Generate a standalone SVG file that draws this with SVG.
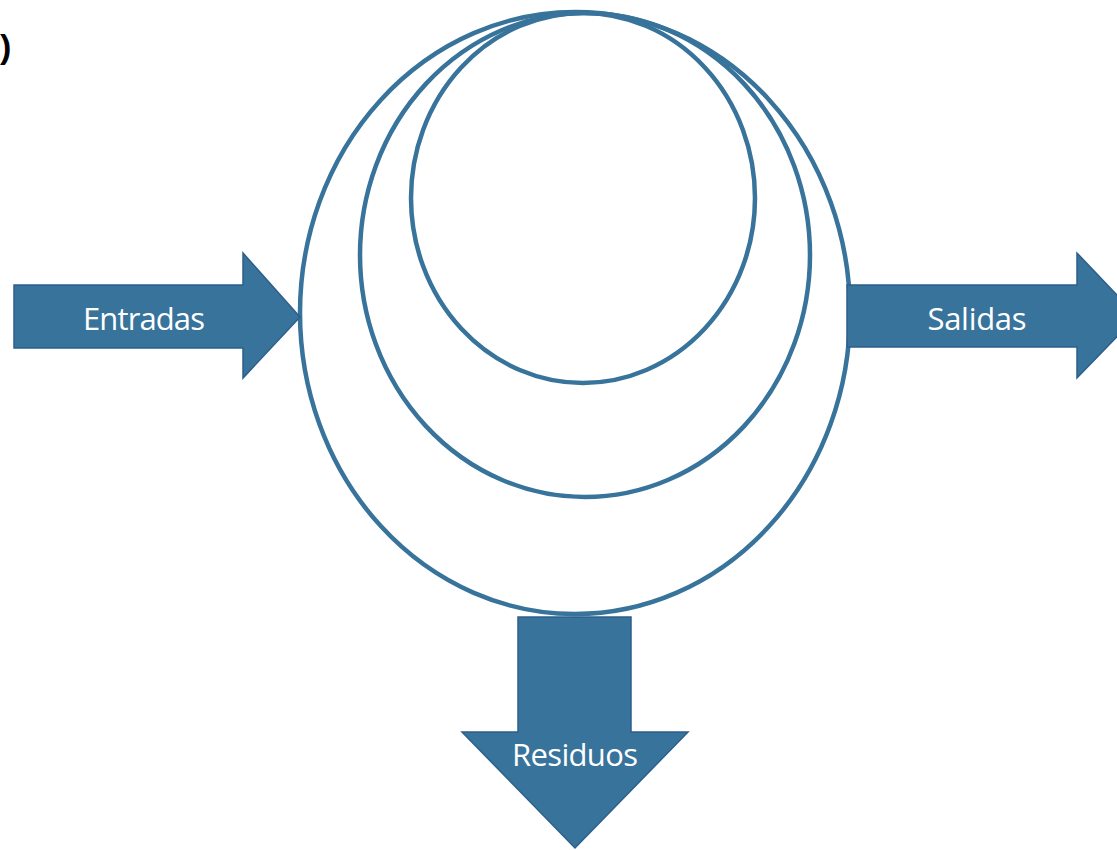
<svg xmlns="http://www.w3.org/2000/svg" width="1117" height="850" viewBox="0 0 1117 850">
  <style>
    .ring { fill: none; stroke: #37739a; stroke-width: 4.5; }
    .arrow { fill: #37739a; stroke: #2e5f8c; stroke-width: 1.5; }
    .label { fill: #ffffff; font-family: "Open Sans", "Liberation Sans", sans-serif; font-size: 31px; text-anchor: middle; }
  </style>
  <rect width="1117" height="850" fill="#ffffff"/>
  <text x="0" y="58" font-family="Liberation Sans, sans-serif" font-size="34" font-weight="bold" fill="#000000">)</text>
  <g id="rings">
    <ellipse id="outer" class="ring" cx="575" cy="313" rx="275" ry="301"/>
    <ellipse id="middle" class="ring" cx="585" cy="255" rx="225" ry="242"/>
    <ellipse id="inner" class="ring" cx="583" cy="198" rx="172" ry="185"/>
  </g>
  <g id="connectors">
    <g id="entradas">
      <polygon class="arrow" points="14,285 243,285 243,253 300,317 243,378 243,348 14,348"/>
      <text class="label" x="144" y="330" textLength="122">Entradas</text>
    </g>
    <g id="salidas">
      <polygon class="arrow" points="847,285 1077,285 1077,253 1137,316 1077,378 1077,347 847,347"/>
      <text class="label" x="977" y="330" textLength="99">Salidas</text>
    </g>
    <g id="residuos">
      <polygon class="arrow" points="518,617 631,617 631,732 688,732 575,848 462,732 518,732"/>
      <text class="label" x="575" y="766" textLength="126">Residuos</text>
    </g>
  </g>
</svg>
